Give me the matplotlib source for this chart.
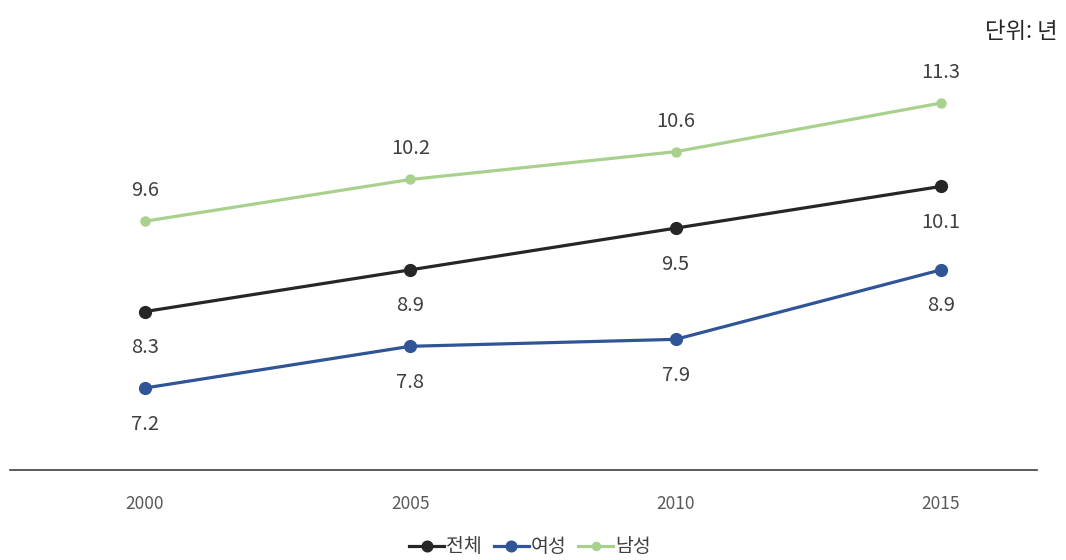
import numpy as np
import matplotlib.pyplot as plt

plt.rcParams['font.family'] = ['Noto Sans CJK KR', 'DejaVu Sans']

# --- data ---
years = ['2000', '2005', '2010', '2015']
total = [8.3, 8.9, 9.5, 10.1]
female = [7.2, 7.8, 7.9, 8.9]
male = [9.6, 10.2, 10.6, 11.3]
series_names = ['전체', '여성', '남성']

fig = plt.figure(figsize=(10.66, 5.6), dpi=100)
ax = fig.add_axes([10 / 1066, 90 / 560, 1027 / 1066, 417 / 560])

x = np.arange(len(years))
c_total, c_female, c_male = '#262626', '#2F5597', '#A9D18E'

ax.plot(x, total, color=c_total, lw=2.3, marker='o', ms=8.5, label=series_names[0], zorder=3)
ax.plot(x, female, color=c_female, lw=2.3, marker='o', ms=8.5, label=series_names[1], zorder=3)
ax.plot(x, male, color=c_male, lw=2.3, marker='o', ms=6.5, label=series_names[2], zorder=3)

lbl_color = '#404040'
for xi, v in zip(x, total):
    ax.annotate(f'{v:.1f}', (xi, v), xytext=(0, -26), textcoords='offset points',
                ha='center', va='center', fontsize=14.5, color=lbl_color)
for xi, v in zip(x, female):
    ax.annotate(f'{v:.1f}', (xi, v), xytext=(0, -26), textcoords='offset points',
                ha='center', va='center', fontsize=14.5, color=lbl_color)
for xi, v in zip(x, male):
    ax.annotate(f'{v:.1f}', (xi, v), xytext=(0, 22), textcoords='offset points',
                ha='center', va='center', fontsize=14.5, color=lbl_color)

ax.set_xlim(-0.509, 3.362)
ax.set_ylim(6.02, 12.02)
ax.set_yticks([])
ax.set_xticks(x)
ax.set_xticklabels(years, fontsize=12.5, color='#595959')
ax.tick_params(axis='x', length=0, pad=18)
for s in ['top', 'right', 'left']:
    ax.spines[s].set_visible(False)
ax.spines['bottom'].set_color('#404040')
ax.spines['bottom'].set_linewidth(1.2)

fig.text(1058 / 1066, 1 - 31 / 560, '단위: 년', ha='right', va='center', fontsize=16, color='#262626')

fig.legend(loc='center', bbox_to_anchor=(530 / 1066, 1 - 547 / 560), ncol=3, frameon=False,
           fontsize=14, handlelength=1.8, handletextpad=0.1, columnspacing=0.6,
           labelcolor='#404040', markerscale=0.9)

plt.savefig('out.png', dpi=100)
